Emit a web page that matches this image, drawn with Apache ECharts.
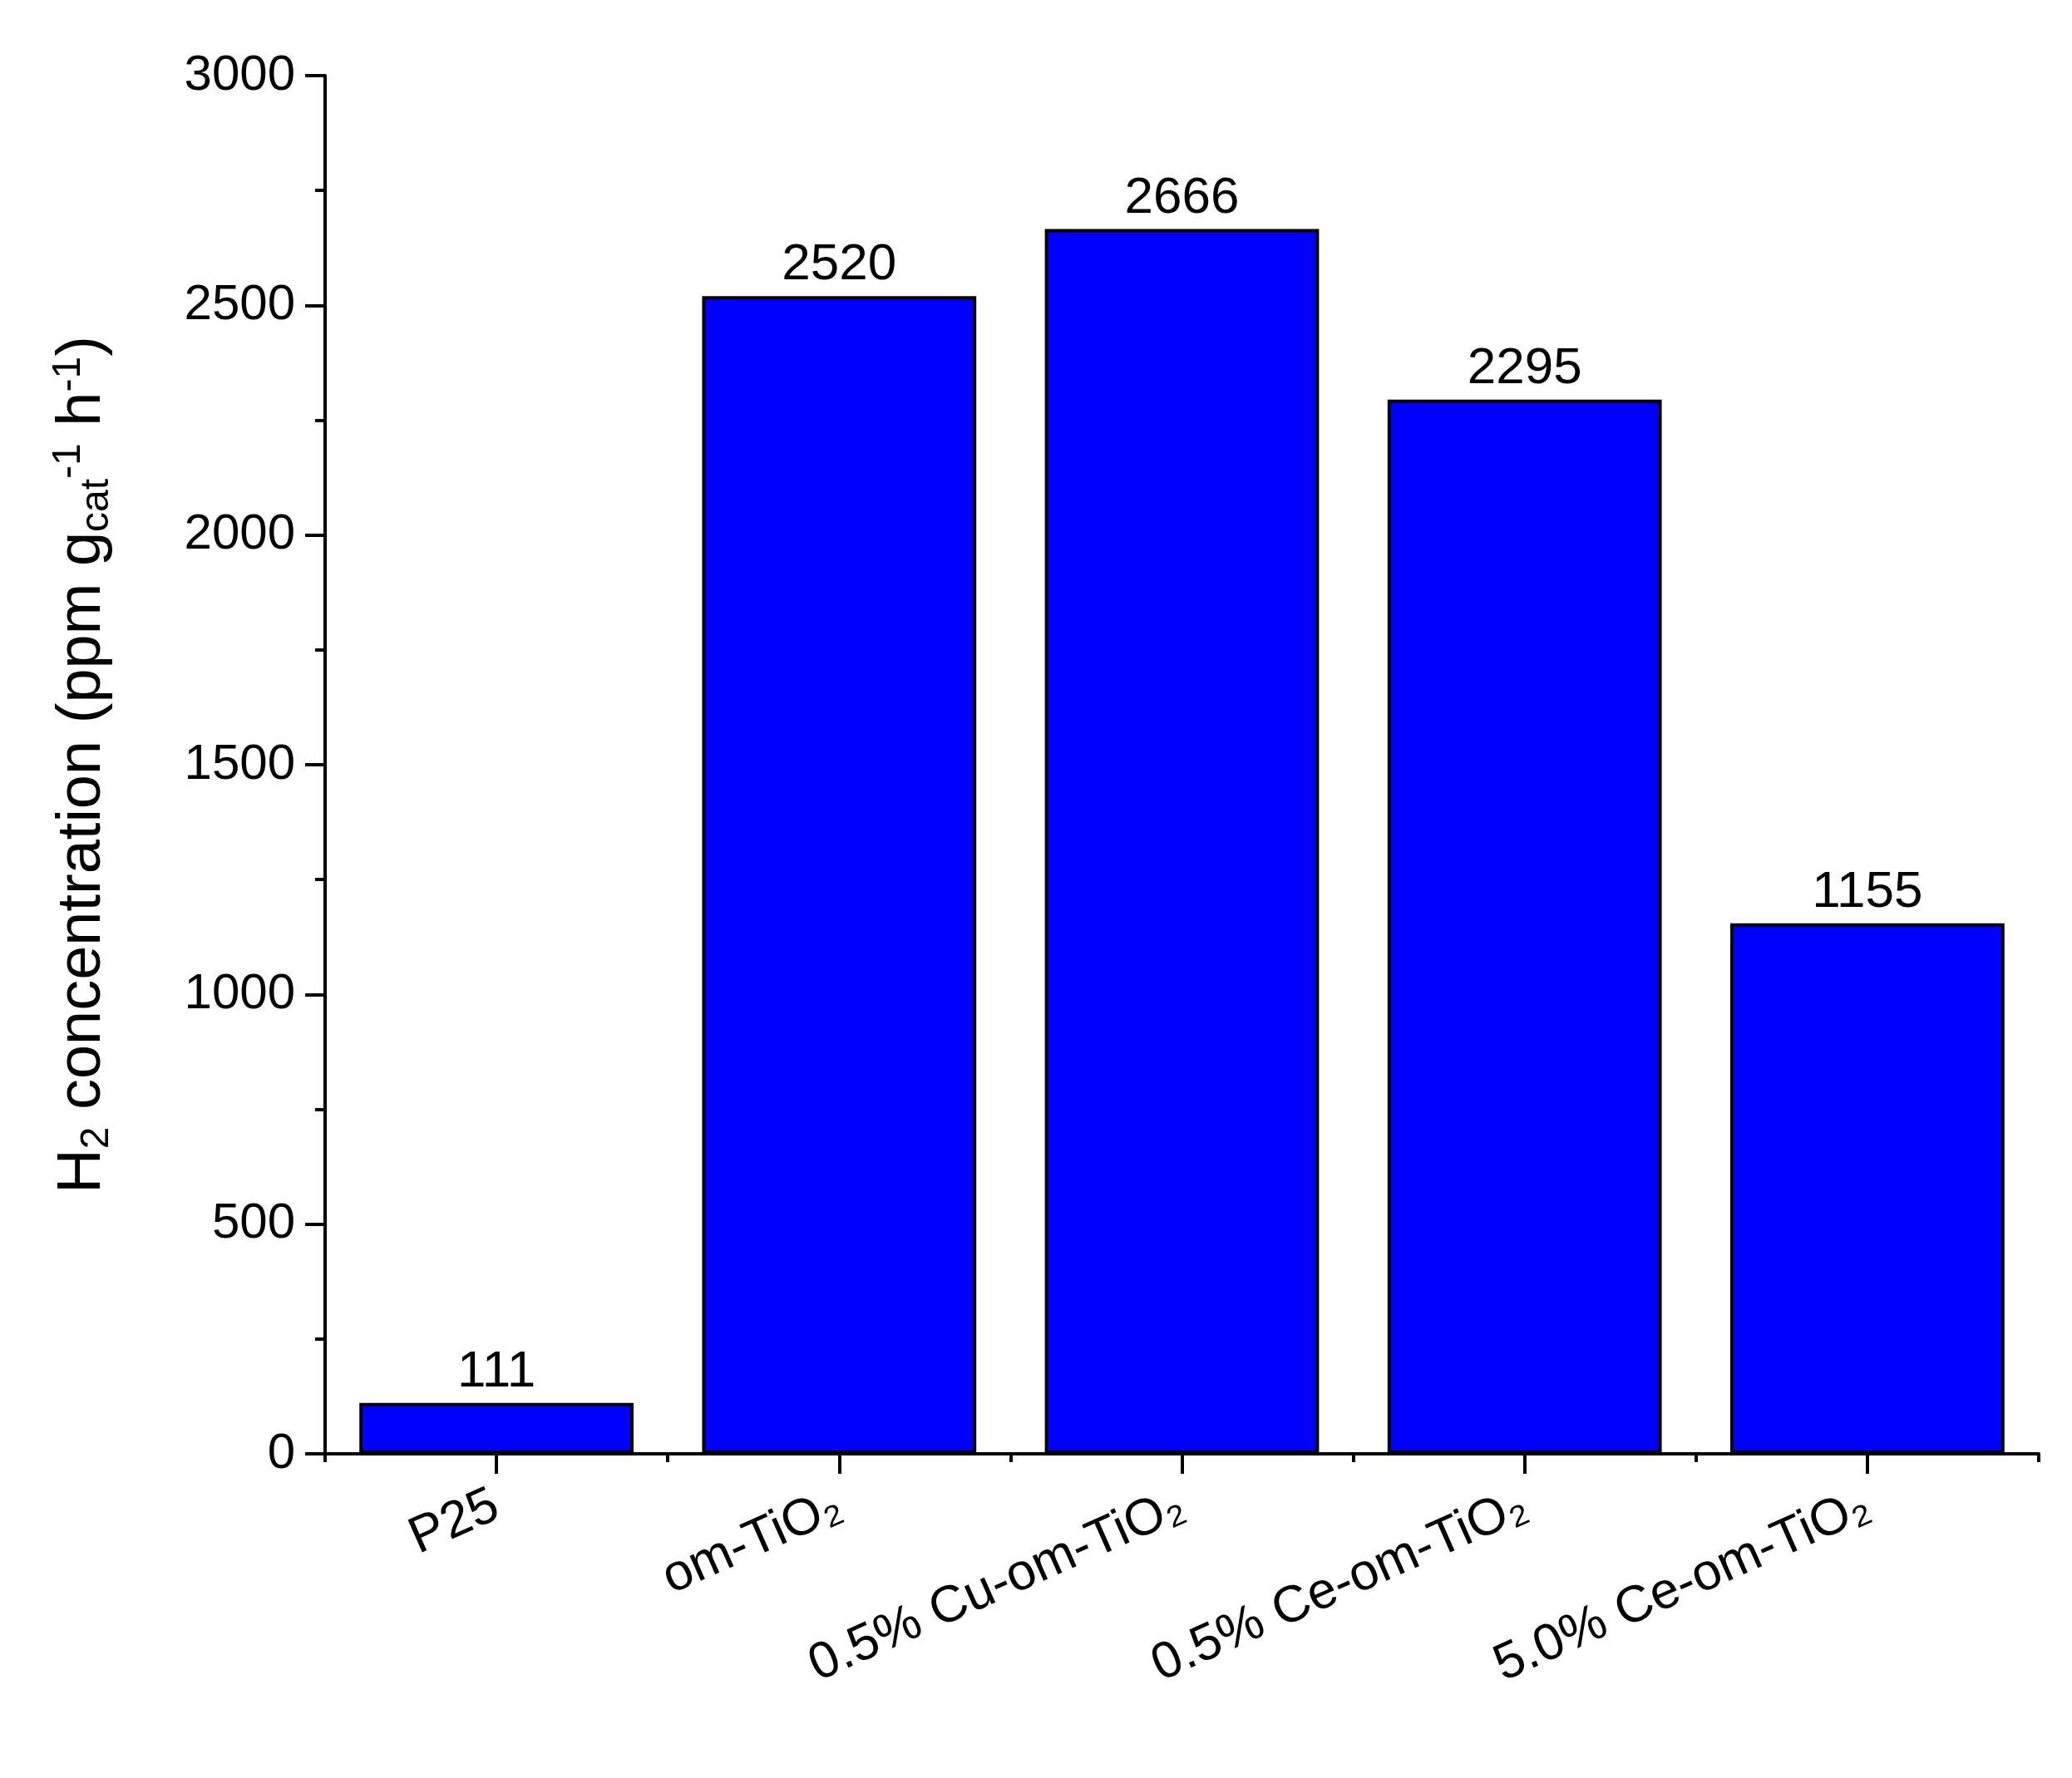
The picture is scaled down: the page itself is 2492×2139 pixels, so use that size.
<!DOCTYPE html>
<html><head><meta charset="utf-8">
<script src="https://cdn.jsdelivr.net/npm/echarts@6/dist/echarts.min.js"></script>
<style>html,body{margin:0;background:#fff}#c{width:2492px;height:2139px}</style>
</head><body><div id="c"></div>
<script>
const categories = ['P25','om-TiO₂','0.5% Cu-om-TiO₂','0.5% Ce-om-TiO₂','5.0% Ce-om-TiO₂'];
const values = [111, 2520, 2666, 2295, 1155];
const yTicks = {min:0, max:3000, interval:500};
const ch = echarts.init(document.getElementById('c'));
const font = 'Arial, "Liberation Sans", sans-serif';
ch.setOption({
  animation:false,
  grid:{left:391,right:40,top:91,bottom:390},
  xAxis:[{
    type:'category', data:categories,
    axisLine:{show:true,lineStyle:{color:'#000',width:4}},
    axisTick:{show:true,alignWithLabel:true,length:24,lineStyle:{color:'#000',width:4}},
    axisLabel:{color:'#000',fontSize:62,fontFamily:font,rotate:24,margin:60,interval:0}
  },{
    type:'category', data:categories, position:'bottom',
    axisLine:{show:false},
    axisTick:{show:true,length:10,interval:0,lineStyle:{color:'#000',width:4}},
    axisLabel:{show:false}
  }],
  yAxis:{
    type:'value', min:yTicks.min, max:yTicks.max, interval:yTicks.interval,
    splitLine:{show:false},
    axisLine:{show:true,lineStyle:{color:'#000',width:4}},
    axisTick:{show:true,length:24,lineStyle:{color:'#000',width:4}},
    minorTick:{show:true,splitNumber:2,length:12,lineStyle:{color:'#000',width:4}},
    axisLabel:{color:'#000',fontSize:60,fontFamily:font,margin:36,formatter:v=>String(v)},
    name:'{m|H}{s|2}{m| concentration (ppm g}{s|cat}{p|-1}{m| h}{p|-1}{m|)}',
    nameLocation:'middle', nameGap:250, nameRotate:90,
    nameTextStyle:{rich:{
      m:{fontSize:74,fontFamily:font,color:'#000'},
      s:{fontSize:48,fontFamily:font,color:'#000',verticalAlign:'bottom',padding:[22,0,0,0]},
      p:{fontSize:48,fontFamily:font,color:'#000',verticalAlign:'top',padding:[0,0,34,0]}
    }}
  },
  series:[{
    type:'bar', data:values, barWidth:'80%', xAxisIndex:0,
    itemStyle:{color:'#0000FF',borderColor:'#000',borderWidth:4},
    label:{show:true,position:'top',color:'#000',fontSize:62,fontFamily:font,distance:6}
  }]
});
</script></body></html>
